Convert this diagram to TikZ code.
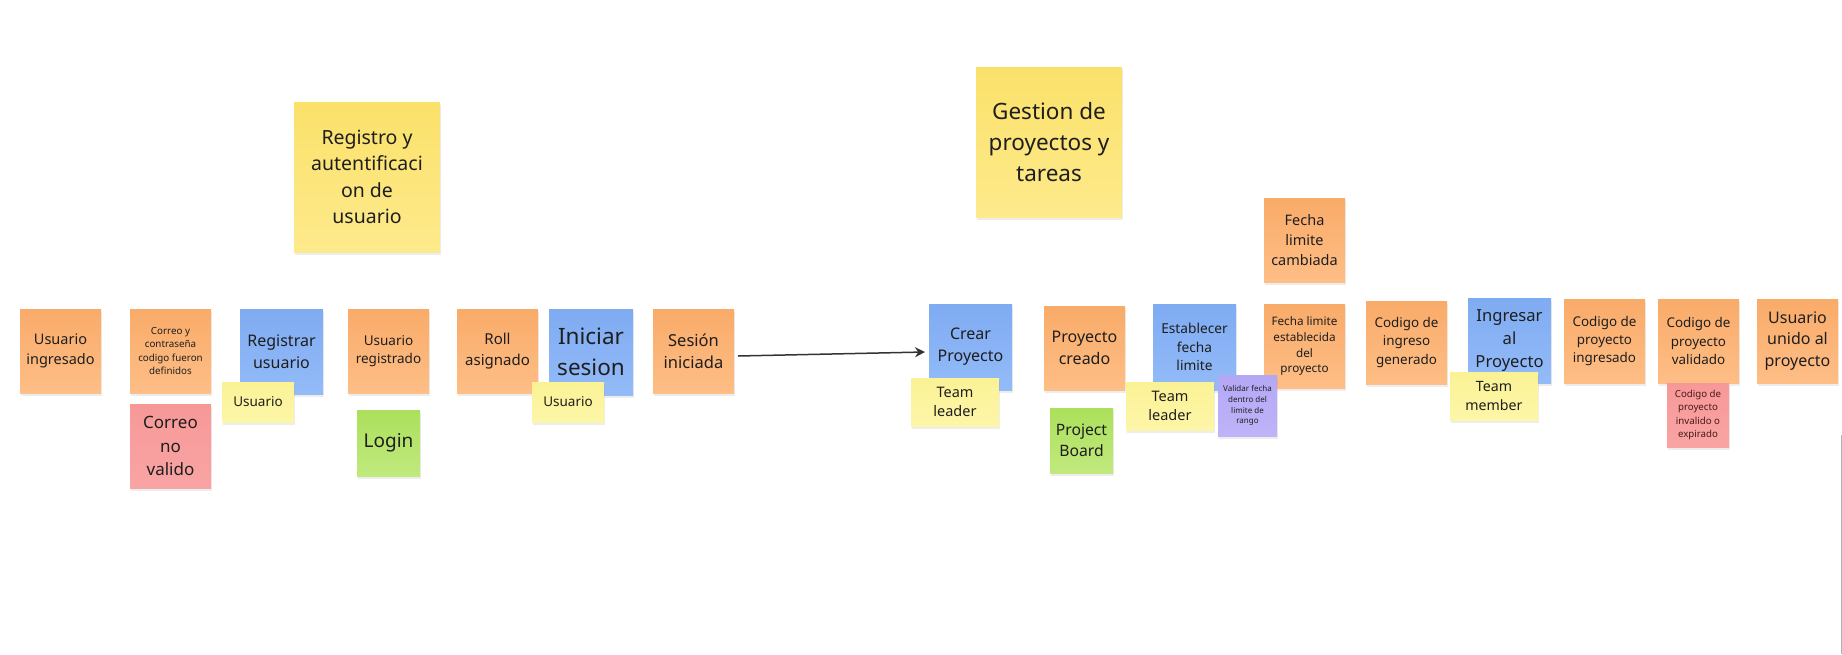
\documentclass[tikz,border=0pt]{standalone}
\usepackage{fontspec}
\setmainfont{Noto Sans}
\usetikzlibrary{shadows,arrows.meta}
\definecolor{orT}{HTML}{F9AB69}\definecolor{orB}{HTML}{FEBE86}
\definecolor{blT}{HTML}{7FABF2}\definecolor{blB}{HTML}{93BBF8}
\definecolor{byT}{HTML}{FBE16A}\definecolor{byB}{HTML}{FDEA8C}
\definecolor{lyT}{HTML}{FBF295}\definecolor{lyB}{HTML}{FDF6A8}
\definecolor{pkT}{HTML}{F79898}\definecolor{pkB}{HTML}{F9A4A4}
\definecolor{grT}{HTML}{ABE05B}\definecolor{grB}{HTML}{C1E97E}
\definecolor{puT}{HTML}{B4A8F6}\definecolor{puB}{HTML}{BEB4F8}
\definecolor{txt}{HTML}{1E1E1E}
\definecolor{redtxt}{HTML}{4A1A1A}
\definecolor{arr}{HTML}{333333}
\newcommand\fsz[1]{\fontsize{#1}{\dimexpr #1pt*136/100\relax}\selectfont}
\tikzset{
  note/.style={rectangle, anchor=north west, inner sep=0pt, outer sep=0pt,
    align=center, text=txt,
    drop shadow={shadow xshift=1pt, shadow yshift=-3pt, opacity=0.07, fill=black}},
  onote/.style={note, top color=orT, bottom color=orB},
  bnote/.style={note, top color=blT, bottom color=blB},
  ynote/.style={note, top color=byT, bottom color=byB},
  lnote/.style={note, top color=lyT, bottom color=lyB},
  pnote/.style={note, top color=pkT, bottom color=pkB},
  gnote/.style={note, top color=grT, bottom color=grB},
  vnote/.style={note, top color=puT, bottom color=puB},
  sz/.style 2 args={minimum width=#1pt, minimum height=#2pt},
  flow/.style={draw=arr, line width=1.5pt, -{Stealth[length=10pt,width=10pt]}}
}
\begin{document}
\begin{tikzpicture}[x=1pt,y=-1pt]
\useasboundingbox (0,0) rectangle (1842,654);
\fill[white] (0,0) rectangle (1842,654);

\node[ynote, sz={146}{150}, font=\fsz{19.5}] (t1) at (294,102) {Registro y\\autentificaci\\on de\\usuario};
\node[ynote, sz={146}{150}, font=\fsz{22.5}] (t2) at (976,67) {Gestion de\\proyectos y\\tareas};

\node[onote, sz={81}{84}, font=\fsz{14.5}] (uing) at (20,309) {Usuario\\ingresado};
\node[onote, sz={81}{84}, font=\fsz{9.8}] (correo) at (130,309) {Correo y\\contraseña\\codigo fueron\\definidos};
\node[pnote, sz={81}{84}, font=\fsz{17}] (noval) at (130,404) {Correo\\no\\valido};
\node[bnote, sz={83}{85}, font=\fsz{16}] (reg) at (240,309) {Registrar\\usuario};
\node[lnote, sz={72}{40}, font=\fsz{13.5}] (usu1) at (222,382) {Usuario};
\node[onote, sz={81}{84}, font=\fsz{13.5}] (ureg) at (348,309) {Usuario\\registrado};
\node[gnote, sz={63}{66}, font=\fsz{19}] (login) at (357,410) {Login};
\node[onote, sz={81}{84}, font=\fsz{15}] (roll) at (457,309) {Roll\\asignado};
\node[bnote, sz={84}{86}, font=\fsz{22.5}] (ini) at (549,309) {Iniciar\\sesion};
\node[lnote, sz={72}{40}, font=\fsz{13.5}] (usu2) at (532,382) {Usuario};
\node[onote, sz={81}{84}, font=\fsz{16.5}] (ses) at (653,309) {Sesión\\iniciada};

\node[bnote, sz={83}{86}, font=\fsz{16}] (crear) at (929,304) {Crear\\Proyecto};
\node[lnote, sz={88}{48}, font=\fsz{14.5}] (tl1) at (911,378) {Team\\leader};
\node[onote, sz={81}{84}, font=\fsz{16}] (pcre) at (1044,306) {Proyecto\\creado};
\node[gnote, sz={63}{65}, font=\fsz{15.7}] (pboard) at (1050,408) {Project\\Board};
\node[bnote, sz={83}{86}, font=\fsz{13.7}] (estab) at (1153,304) {Establecer\\fecha\\limite};
\node[lnote, sz={88}{48}, font=\fsz{14.5}] (tl2) at (1126,382) {Team\\leader};
\node[onote, sz={81}{84}, font=\fsz{14.5}] (fcamb) at (1264,198) {Fecha\\limite\\cambiada};
\node[onote, sz={81}{84}, font=\fsz{11.7}] (festab) at (1264,304) {Fecha limite\\establecida\\del\\proyecto};
\node[vnote, sz={59}{61}, font=\fsz{8}] (validar) at (1218,375) {Validar fecha\\dentro del\\limite de\\rango};
\node[onote, sz={81}{83}, font=\fsz{13.4}] (cing) at (1366,301) {Codigo de\\ingreso\\generado};
\node[bnote, sz={83}{85}, font=\fsz{16.6}] (ingr) at (1468,298) {Ingresar\\al\\Proyecto};
\node[lnote, sz={88}{48}, font=\fsz{14.2}] (tm) at (1450,372) {Team\\member};
\node[onote, sz={81}{84}, font=\fsz{13.4}] (cping) at (1564,299) {Codigo de\\proyecto\\ingresado};
\node[onote, sz={81}{84}, font=\fsz{13.4}] (cpval) at (1658,299) {Codigo de\\proyecto\\validado};
\node[pnote, sz={62}{64}, font=\fsz{9.7}, text=redtxt] (cpinv) at (1667,383) {Codigo de\\proyecto\\invalido o\\expirado};
\node[onote, sz={81}{84}, font=\fsz{16}] (unido) at (1757,299) {Usuario\\unido al\\proyecto};

\draw[flow] ([xshift=4pt,yshift=-5pt]ses.east) -- ([xshift=-4pt,yshift=-5pt]crear.west);

\draw[gray!60, line width=1pt] (1841,435) -- (1841,654);
\end{tikzpicture}
\end{document}
